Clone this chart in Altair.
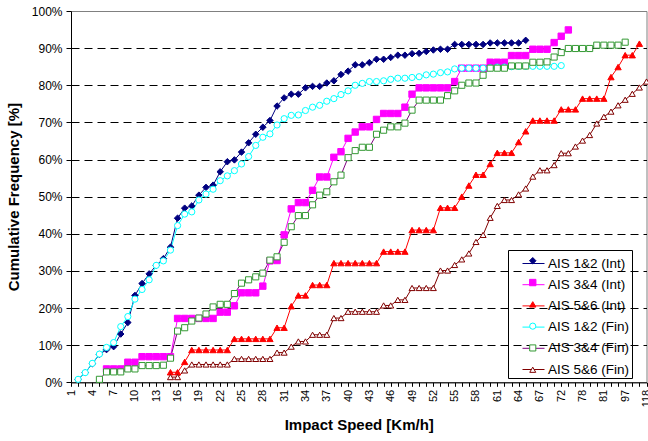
import altair as alt
import pandas as pd

# Category axis (speed classes, Km/h)
speeds = [str(s) for s in range(1, 68)] + ['68', '70', '72', '74', '76', '78', '79', '80',
                                          '81', '85', '90', '97', '100', '110', '118']

names = ['AIS 1&2 (Int)', 'AIS 3&4 (Int)', 'AIS 5&6 (Int)',
         'AIS 1&2 (Fin)', 'AIS 3&4 (Fin)', 'AIS 5&6 (Fin)']

ais12_int_start = 1
ais12_int = [0.8, 2.6, 5.0, 7.5, 8.8, 9.6, 13.0, 16.1, 23.4, 26.6,
             29.2, 31.5, 33.3, 36.4, 44.2, 46.9, 47.5, 50.4, 52.5, 53.1,
             56.7, 59.4, 59.9, 62.0, 64.5, 66.8, 68.7, 70.5, 74.4, 76.6,
             77.6, 77.6, 79.3, 79.7, 79.7, 80.6, 81.2, 82.9, 83.8, 85.5,
             85.5, 86.1, 87.0, 87.0, 87.5, 88.1, 88.1, 88.5, 88.6, 89.1,
             89.5, 89.7, 89.7, 91.0, 91.0, 91.0, 91.0, 91.0, 91.4, 91.4,
             91.4, 91.4, 91.4, 92.1]

ais34_int_start = 5
ais34_int = [3.6, 3.6, 3.6, 5.4, 5.4, 6.9, 6.9, 6.9, 6.9, 6.9,
             17.2, 17.2, 17.2, 17.2, 17.2, 17.2, 18.9, 18.9, 20.6, 24.1,
             24.1, 24.1, 25.9, 32.7, 32.8, 39.7, 46.7, 48.4, 48.4, 51.7,
             55.3, 55.3, 60.6, 62.1, 65.7, 67.4, 68.8, 68.8, 70.8, 72.4,
             72.4, 72.4, 74.1, 77.6, 79.3, 79.3, 79.3, 79.3, 79.3, 81.0,
             84.6, 84.6, 84.6, 84.6, 86.2, 86.2, 86.2, 88.0, 88.0, 88.0,
             89.7, 89.7, 89.7, 91.5, 93.2, 94.9]

ais56_int_start = 14
ais56_int = [2.7, 2.7, 5.5, 8.7, 8.7, 8.7, 8.7, 8.7, 8.7, 11.7,
             11.7, 11.7, 11.7, 11.7, 11.7, 14.7, 14.7, 20.5, 23.4, 23.4,
             26.2, 26.2, 26.2, 32.1, 32.1, 32.1, 32.1, 32.1, 32.1, 32.1,
             35.2, 35.2, 35.2, 35.2, 41.0, 41.0, 41.0, 41.0, 47.0, 47.0,
             47.0, 50.0, 53.0, 55.9, 55.9, 58.8, 61.8, 61.8, 61.8, 64.7,
             67.6, 70.5, 70.5, 70.5, 70.5, 73.5, 73.5, 73.5, 76.4, 76.4,
             76.4, 76.4, 82.2, 84.9, 88.1, 88.1, 91.2]

ais12_fin_start = 1
ais12_fin = [0.8, 2.6, 5.1, 7.6, 9.4, 10.7, 15.0, 17.7, 22.4, 25.0,
             27.6, 31.5, 32.7, 35.6, 42.2, 45.3, 45.9, 49.1, 50.7, 52.0,
             54.3, 55.6, 57.0, 58.8, 60.8, 63.8, 66.0, 66.9, 69.3, 71.0,
             71.9, 72.0, 73.2, 74.1, 74.6, 75.7, 76.4, 77.5, 78.5, 80.0,
             80.5, 81.0, 81.0, 81.2, 81.6, 81.9, 81.9, 82.1, 82.3, 82.8,
             83.0, 83.4, 83.6, 84.4, 84.6, 84.6, 84.6, 84.6, 84.7, 84.9,
             84.9, 85.0, 85.1, 85.1, 85.1, 85.1, 85.1, 85.1, 85.3]

ais34_fin_start = 4
ais34_fin = [0.8, 2.8, 2.8, 2.8, 3.6, 3.6, 4.5, 4.5, 4.5, 4.6,
             6.5, 13.8, 14.7, 16.5, 17.3, 18.4, 20.3, 21.0, 21.0, 23.9,
             26.7, 27.6, 28.4, 29.4, 32.9, 33.8, 37.7, 41.9, 44.9, 44.9,
             47.8, 50.4, 51.3, 54.0, 55.8, 60.5, 62.4, 63.3, 63.3, 66.8,
             67.9, 68.8, 68.8, 69.8, 73.3, 76.0, 76.0, 76.0, 76.0, 77.2,
             78.5, 80.0, 80.6, 80.6, 82.7, 84.6, 84.6, 84.6, 85.2, 85.2,
             85.2, 86.2, 86.2, 86.3, 87.6, 88.8, 89.9, 89.9, 89.9, 89.9,
             90.8, 90.8, 90.8, 90.8, 91.6]

ais56_fin_start = 14
ais56_fin = [1.4, 1.4, 3.2, 4.8, 4.8, 4.8, 4.8, 4.8, 4.8, 6.3,
             6.3, 6.3, 6.3, 6.3, 6.3, 8.0, 8.0, 9.6, 11.0, 11.0,
             12.8, 12.8, 12.8, 17.3, 17.3, 19.0, 19.0, 19.0, 19.0, 19.0,
             20.7, 20.7, 22.2, 22.2, 25.4, 25.4, 25.4, 25.4, 30.1, 30.1,
             31.6, 33.1, 34.7, 37.8, 39.7, 44.3, 47.5, 49.1, 49.1, 50.6,
             52.2, 55.4, 57.1, 57.1, 58.5, 61.7, 61.7, 63.5, 65.1, 66.6,
             69.7, 71.5, 72.9, 74.6, 76.1, 77.7, 79.4, 81.0]

line_colors = ['#000080', '#FF00FF', '#FF0000', '#00FFFF', '#800080', '#800000']
marker_stroke = ['#000080', '#FF00FF', '#FF0000', '#00FFFF', '#339933', '#800000']
marker_fill = ['#000080', '#FF00FF', '#FF0000', '#FFFFFF', '#FFFFFF', '#FFFFFF']
marker_shape = ['diamond', 'square', 'triangle-up', 'circle', 'square', 'triangle-up']
marker_size = [42, 36, 46, 26, 36, 46]

series_defs = [
    (names[0], ais12_int_start, ais12_int),
    (names[1], ais34_int_start, ais34_int),
    (names[2], ais56_int_start, ais56_int),
    (names[3], ais12_fin_start, ais12_fin),
    (names[4], ais34_fin_start, ais34_fin),
    (names[5], ais56_fin_start, ais56_fin),
]

# the line legend gets its own (distinct) domain so Vega-Lite keeps it separate
line_names = [n + ' ' for n in names]

rows = []
for (name, start, vals), lname in zip(series_defs, line_names):
    for k, v in enumerate(vals):
        rows.append({'series': name, 'line_series': lname, 'idx': start + k,
                     'speed': speeds[start + k], 'value': v})
df = pd.DataFrame(rows)

FONT = 'Liberation Sans'
lab_js = '[' + ','.join("'%s'" % s for s in speeds) + ']'

xscale = alt.Scale(domain=[0, len(speeds) - 1], nice=False, zero=False)
yscale = alt.Scale(domain=[0, 100], nice=False)

x_axis = alt.Axis(
    values=list(range(len(speeds))),
    labelExpr=f"datum.value % 3 == 0 ? {lab_js}[datum.value] : ''",
    labelAngle=-90, labelFontSize=11, labelFont=FONT, labelColor='black',
    labelOverlap=False, labelFlush=False, labelPadding=3,
    tickSize=4, tickColor='black', domainColor='black', grid=False,
    title='Impact Speed [Km/h]', titleFont=FONT, titleFontSize=15,
    titleFontWeight='bold', titleColor='black', titlePadding=11,
)

y_axis = alt.Axis(
    values=list(range(0, 101, 10)),
    labelExpr="datum.value + '%'", labelOverlap=False,
    labelFontSize=12, labelFont=FONT, labelColor='black', labelPadding=4,
    tickSize=5, tickColor='black', domainColor='black',
    grid=True, gridColor='black', gridDash=[8, 5], gridWidth=1,
    gridOpacity={"condition": {"test": "datum.value == 0 || datum.value == 100", "value": 0}, "value": 1},
    title='Cumulative Frequency [%]', titleFont=FONT, titleFontSize=15,
    titleFontWeight='bold', titleColor='black', titlePadding=10,
)

LX, LY = 437, 239

line_legend = alt.Legend(
    title=None, orient='none', legendX=LX, legendY=LY,
    symbolType='stroke', symbolSize=484, symbolStrokeWidth=1,
    labelFont=FONT, labelFontSize=13.5, labelColor='black', labelOffset=3,
    labelExpr="datum.label + '    '",
    rowPadding=3.2, padding=2, symbolOffset=12, strokeColor='black',
)

point_legend = alt.Legend(
    title=None, orient='none', legendX=LX + 4, legendY=LY - 1,
    symbolStrokeWidth=1, symbolOpacity=1,
    labelFont=FONT, labelFontSize=13.5, labelColor='black', labelExpr="''", labelOffset=3,
    rowPadding=6.8, padding=5, symbolOffset=9,
)

lines = alt.Chart(df).mark_line(strokeWidth=1).encode(
    x=alt.X('idx:Q', scale=xscale, axis=x_axis),
    y=alt.Y('value:Q', scale=yscale, axis=y_axis),
    stroke=alt.Stroke('line_series:N', scale=alt.Scale(domain=line_names, range=line_colors),
                      legend=line_legend),
    order='idx:Q',
)

points = alt.Chart(df).mark_point(filled=False, opacity=1, strokeWidth=1).encode(
    x=alt.X('idx:Q', scale=xscale, axis=x_axis),
    y=alt.Y('value:Q', scale=yscale, axis=y_axis),
    color=alt.Color('series:N', scale=alt.Scale(domain=names, range=marker_stroke), legend=point_legend),
    fill=alt.Fill('series:N', scale=alt.Scale(domain=names, range=marker_fill), legend=point_legend),
    shape=alt.Shape('series:N', scale=alt.Scale(domain=names, range=marker_shape), legend=point_legend),
    size=alt.Size('series:N', scale=alt.Scale(domain=names, range=marker_size), legend=point_legend),
)

chart = alt.layer(lines, points).properties(
    width=575.5, height=371.3,
    autosize=alt.AutoSizeParams(type='none'),
    padding={'left': 71, 'top': 11, 'right': 1.5, 'bottom': 58.7},
    background='white',
).configure_view(
    stroke='#808080', strokeWidth=1,
)

chart.save('out.html', embed_options={'renderer': 'svg', 'actions': False})
